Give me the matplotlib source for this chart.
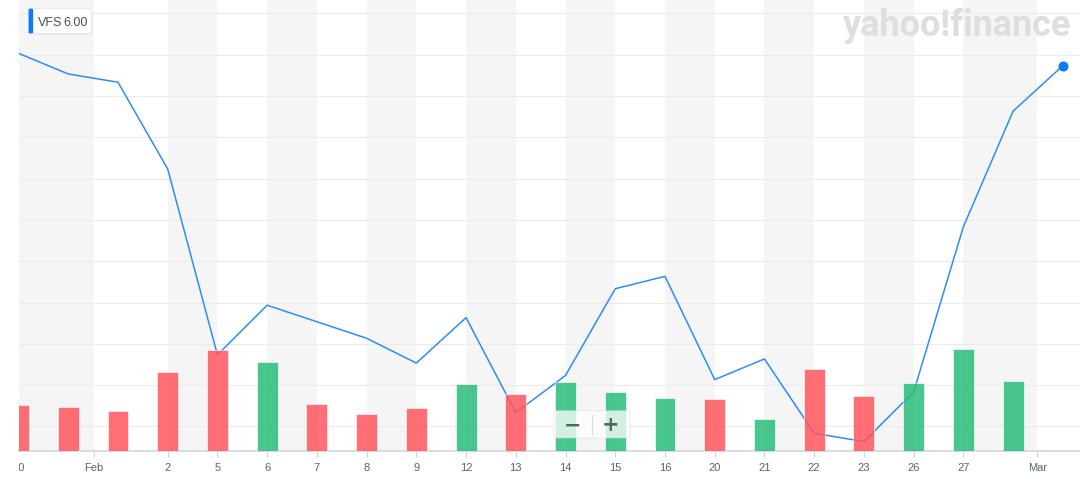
import matplotlib
matplotlib.use("Agg")
import matplotlib.pyplot as plt
from matplotlib.patches import FancyBboxPatch
from matplotlib.transforms import Bbox, TransformedBbox
import numpy as np

# ---------------- data ----------------
ticker = "VFS"
last_label = "6.00"
# daily close (USD), Jan 30 .. Feb 28 + latest quote
close = [6.03, 5.98, 5.96, 5.75, 5.30, 5.42, 5.38, 5.34, 5.28, 5.39, 5.16,
         5.25, 5.46, 5.49, 5.24, 5.29, 5.11, 5.09, 5.21, 5.61, 5.89, 6.00]
# daily volume (millions of shares)
volume = [1.16, 1.11, 1.02, 1.98, 2.53, 2.24, 1.18, 0.93, 1.09, 1.69, 1.43,
          1.73, 1.49, 1.33, 1.30, 0.80, 2.05, 1.38, 1.72, 2.56, 1.76]
# direction of the day (down / up) used for bar colour
direction = ["down", "down", "down", "down", "down", "up", "down", "down", "down", "up", "down",
             "up", "up", "up", "down", "up", "down", "down", "up", "up", "up"]
tick_labels = ["30", "Feb", "2", "5", "6", "7", "8", "9", "12", "13", "14", "15",
               "16", "20", "21", "22", "23", "26", "27", "Mar"]

# ---------------- layout ----------------
W, H = 1080, 485
fig = plt.figure(figsize=(W / 100, H / 100), dpi=100)
fig.patch.set_facecolor("white")

left_px, bottom_px = 18.5, 452.3
ax = fig.add_axes([left_px / W, 1 - bottom_px / H, 1 - left_px / W, bottom_px / H])
ax2 = ax.twinx()

n = len(close)
x = np.arange(n)
xv = np.arange(len(volume))
tick_pos = [0, 1.52] + list(range(3, 20)) + [20.49]

px_per_unit = 413.0          # pixels per 1 USD
ref_y = 66.7                  # pixel row of the last quote
p_bot = close[-1] - (bottom_px - ref_y) / px_per_unit
p_top = close[-1] + ref_y / px_per_unit
ax.set_xlim(0, (W - left_px) / 49.73)
ax.set_ylim(p_bot, p_top)

# alternating bands between ticks
for i in range(len(tick_pos) - 1):
    if i % 2 == 0:
        ax.axvspan(tick_pos[i], tick_pos[i + 1], color="#f5f5f5", lw=0, zorder=0)

# horizontal grid
for k in range(11):
    gy = 14.4 + 41.3 * k
    ax.axhline(close[-1] + (ref_y - gy) / px_per_unit, color="#ebebeb", lw=0.8, zorder=0.5)

# price line
ax.plot(x, close, color="#2b8ef3", lw=1.1, zorder=2, solid_joinstyle="round")
ax.plot(x[-1], close[-1], "o", ms=6.2, color="#0b7cf4", zorder=3, clip_on=False)

# volume bars (on top, slightly transparent)
col_map = {"down": "#ff565d", "up": "#2abd7a"}
bar_cols = [col_map[d] for d in direction]
ax2.bar(xv, volume, width=0.42, color=bar_cols, alpha=0.85,
        edgecolor=(1, 1, 1, 0.6), linewidth=0.5, zorder=2)
ax2.set_ylim(0, bottom_px / 40.0)
ax2.set_axis_off()

# axes styling
for s in ["left", "right", "top"]:
    ax.spines[s].set_visible(False)
ax.spines["bottom"].set_color("#d3d6d9")
ax.spines["bottom"].set_linewidth(1.2)
ax.set_yticks([])
ax.set_xticks(tick_pos[1:])
ax.set_xticklabels(tick_labels[1:], family="Liberation Sans")
ax.tick_params(axis="x", length=4, width=0.8, color="#cfd2d6",
               labelsize=8, labelcolor="#5a636b", pad=4)

# first label, partially hidden by the plot's left edge
t30 = ax.text(0, -(4 + 4) * (100 / 72) / bottom_px, tick_labels[0], transform=ax.transAxes,
              ha="center", va="top", fontsize=8, color="#5a636b", family="Liberation Sans")
t30.set_clip_box(TransformedBbox(Bbox([[0, -1], [1, 1]]), ax.transAxes))
t30.set_clip_on(True)


def fx(px):
    return px / W


def fy(py):
    return 1 - py / H


# ticker label box (with soft shadow)
shadow = FancyBboxPatch((fx(29.4), fy(35.6)), fx(91.3 - 28.6), (34.4 - 9.6) / H,
                        boxstyle="round,pad=0,rounding_size=0.003", transform=fig.transFigure,
                        facecolor=(0, 0, 0, 0.07), edgecolor="none", zorder=9)
fig.add_artist(shadow)
box = FancyBboxPatch((fx(28.6), fy(34.4)), fx(91.3 - 28.6), (34.4 - 9.6) / H,
                     boxstyle="round,pad=0,rounding_size=0.003", transform=fig.transFigure,
                     facecolor="white", edgecolor="#e6e8ea", lw=0.6, zorder=10)
fig.add_artist(box)
blue = FancyBboxPatch((fx(28.6), fy(34.4)), fx(4.6), (34.4 - 9.6) / H,
                      boxstyle="round,pad=0,rounding_size=0.002", transform=fig.transFigure,
                      facecolor="#0a7cf4", edgecolor="none", zorder=11)
fig.add_artist(blue)
fig.text(fx(38), fy(22.5), ticker, fontsize=9, color="#464e56", ha="left", va="center",
         family="Liberation Sans", zorder=12)
fig.text(fx(63), fy(22.5), last_label, fontsize=9, color="#464e56", ha="left", va="center",
         family="Liberation Sans", zorder=12)

# watermark
wm = fig.text(fx(843), fy(36), "yahoo!finance", fontsize=24, fontweight="bold",
              family="Roboto", color="#dcdee2", ha="left", va="baseline", zorder=1)
fig.canvas.draw()
bb = wm.get_window_extent()
wm.set_fontsize(24 * 229 / bb.width)

# zoom control
zb = FancyBboxPatch((fx(554), fy(439)), fx(630 - 554), (439 - 411.7) / H,
                    boxstyle="round,pad=0,rounding_size=0.004", transform=fig.transFigure,
                    facecolor=(1, 1, 1, 0.75), edgecolor=(0.85, 0.85, 0.85, 0.6), lw=0.6, zorder=10)
fig.add_artist(zb)
fig.add_artist(plt.Line2D([fx(591.7), fx(591.7)], [fy(416), fy(435)], transform=fig.transFigure,
                          color="#d8dcda", lw=0.8, zorder=11))
fig.text(fx(572.3), fy(425.5), "\u2212", fontsize=15, fontweight="bold", color="#59665f",
         ha="center", va="center", zorder=12)
fig.text(fx(611), fy(425.5), "+", fontsize=15, fontweight="bold", color="#59665f",
         ha="center", va="center", zorder=12)

fig.savefig("out.png", dpi=100)
